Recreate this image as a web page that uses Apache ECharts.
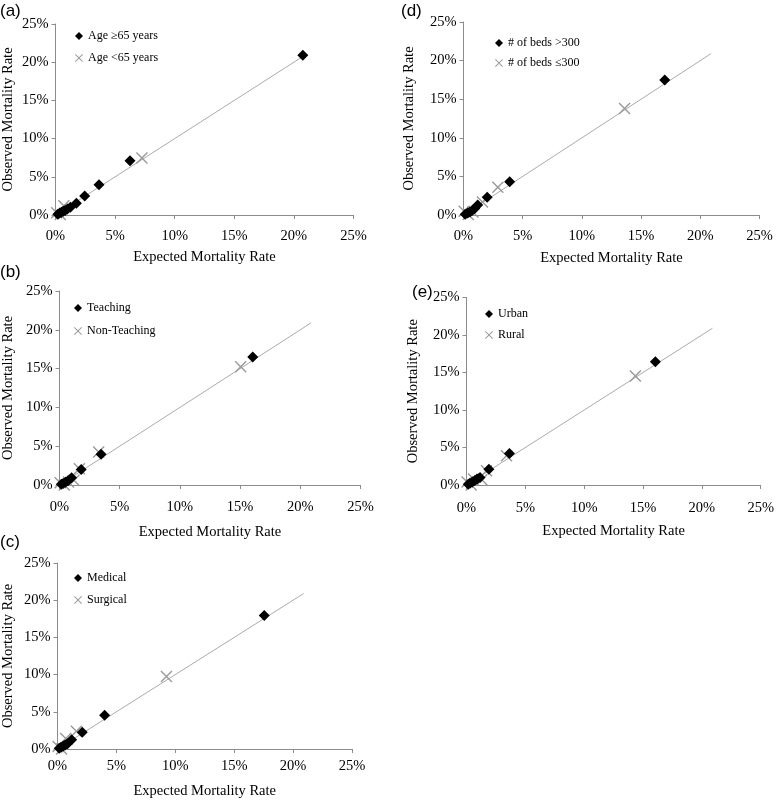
<!DOCTYPE html>
<html>
<head>
<meta charset="utf-8">
<script src="https://cdn.jsdelivr.net/npm/echarts@6/dist/echarts.min.js"></script>
<style>html,body{margin:0;padding:0;background:#fff;}#chart{width:777px;height:800px;}</style>
</head>
<body>
<div id="chart"></div>
<script>
// ---- data (percent) ----
const panelTags = ['(a)', '(b)', '(c)', '(d)', '(e)'];
const groupNames = [
  ['Age ≥65 years', 'Age <65 years'],
  ['Teaching', 'Non-Teaching'],
  ['Medical', 'Surgical'],
  ['# of beds >300', '# of beds ≤300'],
  ['Urban', 'Rural']
];
const xAxisTitle = 'Expected Mortality Rate';
const yAxisTitle = 'Observed Mortality Rate';
const axisMin = 0, axisMax = 25, axisStep = 5;
const identityLine = [[0, 0], [20.9, 20.9]];

const diamondsA = [[0.2,0.1],[0.35,0.25],[0.5,0.35],[0.65,0.5],[0.8,0.6],[1.0,0.8],[1.25,1.0],[1.75,1.55],[2.45,2.5],[3.65,3.95],[6.25,7.1],[20.75,20.9]];
const crossesA  = [[0.1,0.3],[0.4,0.05],[0.7,1.2],[7.25,7.45]];
const diamondsB = [[0.15,0.1],[0.3,0.2],[0.5,0.35],[0.7,0.55],[1.0,0.95],[1.8,2.0],[3.45,3.95],[16.05,16.5]];
const crossesB  = [[0.05,0.3],[0.4,0.0],[0.75,0.4],[1.2,0.6],[1.65,2.1],[3.25,4.25],[15.05,15.25]];
const diamondsC = [[0.15,0.1],[0.3,0.25],[0.5,0.4],[0.65,0.55],[0.85,0.7],[1.2,1.25],[2.1,2.25],[4.0,4.55],[17.55,17.95]];
const crossesC  = [[0.05,0.35],[0.35,0.0],[0.7,1.4],[1.6,2.4],[9.25,9.75]];
const diamondsD = [[0.15,0.1],[0.35,0.25],[0.55,0.4],[0.75,0.6],[0.95,0.85],[1.2,1.3],[2.0,2.3],[3.9,4.3],[17.0,17.5]];
const crossesD  = [[0.05,0.5],[0.4,0.05],[0.8,0.4],[1.6,1.7],[2.9,3.6],[13.6,13.8]];
const diamondsE = [[0.15,0.1],[0.3,0.25],[0.5,0.4],[0.7,0.6],[0.9,0.8],[1.15,1.0],[1.9,2.1],[3.65,4.2],[16.05,16.45]];
const crossesE  = [[0.05,0.4],[0.4,0.0],[0.6,0.8],[1.3,0.7],[1.7,1.9],[3.4,3.9],[14.35,14.55]];

const diamondSets = [diamondsA, diamondsB, diamondsC, diamondsD, diamondsE];
const crossSets = [crossesA, crossesB, crossesC, crossesD, crossesE];

// ---- layout / style ----
const grids = [
  {left: 55.5, top: 24, width: 298, height: 191},
  {left: 57.5, top: 291, width: 303, height: 194},
  {left: 57, top: 563, width: 295, height: 188},
  {left: 463.5, top: 22, width: 296, height: 193},
  {left: 466.5, top: 297.5, width: 296.5, height: 187.5}
];
const yNameGap = [39.5, 43.5, 41.5, 46.5, 46];
const xNameGap = [35, 40, 35, 36, 39];
const xLabelMargin = [14, 15, 10, 14, 16];
const legendPos = [
  {left: 75, top: 30, itemGap: 10},
  {left: 74, top: 302, itemGap: 11},
  {left: 74, top: 572, itemGap: 10},
  {left: 495, top: 37, itemGap: 8},
  {left: 485, top: 308, itemGap: 9}
];
const tagPos = [[0, 3], [0, 264], [0, 534], [401, 3], [412, 284]];

const SERIF = '"Liberation Serif", "Times New Roman", serif';
const AXIS_COLOR = '#8c8c8c';
const CROSS_PATH = 'path://M0,1L1,0L6,5L11,0L12,1L7,6L12,11L11,12L6,7L1,12L0,11L5,6Z';

const option = {
  backgroundColor: '#fff',
  animation: false,
  grid: grids.map(g => Object.assign({containLabel: false}, g)),
  xAxis: grids.map((g, i) => ({
    type: 'value', gridIndex: i, min: axisMin, max: axisMax, interval: axisStep,
    name: xAxisTitle, nameLocation: 'middle', nameGap: xNameGap[i],
    nameTextStyle: {fontFamily: SERIF, fontSize: 14.5, color: '#000'},
    axisLine: {show: true, lineStyle: {color: AXIS_COLOR, width: 1}},
    axisTick: {show: true, inside: false, length: 4, lineStyle: {color: AXIS_COLOR}},
    axisLabel: {formatter: '{value}%', fontFamily: SERIF, fontSize: 14.5, color: '#000', margin: xLabelMargin[i]},
    splitLine: {show: false}
  })),
  yAxis: grids.map((g, i) => ({
    type: 'value', gridIndex: i, min: axisMin, max: axisMax, interval: axisStep,
    name: yAxisTitle, nameLocation: 'middle', nameGap: yNameGap[i], nameRotate: 90,
    nameTextStyle: {fontFamily: SERIF, fontSize: 14.5, color: '#000'},
    axisLine: {show: true, lineStyle: {color: AXIS_COLOR, width: 1}},
    axisTick: {show: true, inside: false, length: 4, lineStyle: {color: AXIS_COLOR}},
    axisLabel: {formatter: '{value}%', fontFamily: SERIF, fontSize: 14.5, color: '#000', margin: 7},
    splitLine: {show: false}
  })),
  legend: groupNames.map((names, i) => ({
    orient: 'vertical', left: legendPos[i].left, top: legendPos[i].top, itemGap: legendPos[i].itemGap,
    itemWidth: 8, itemHeight: 8, padding: 0,
    textStyle: {fontFamily: SERIF, fontSize: 12, color: '#000'},
    data: [
      {name: names[0], icon: 'diamond', itemStyle: {color: '#000'}},
      {name: names[1], icon: CROSS_PATH, itemStyle: {color: '#9a9a9a'}}
    ],
    selectedMode: false
  })),
  series: [],
  graphic: panelTags.map((t, i) => ({
    type: 'text', left: tagPos[i][0], top: tagPos[i][1],
    style: {text: t, fontFamily: '"Liberation Sans", Arial, sans-serif', fontSize: 17, fill: '#000'}
  }))
};

grids.forEach((g, i) => {
  option.series.push({
    type: 'line', xAxisIndex: i, yAxisIndex: i, data: identityLine,
    showSymbol: false, silent: true, z: 1,
    lineStyle: {color: '#ababab', width: 1}
  });
  option.series.push({
    type: 'scatter', name: groupNames[i][1], xAxisIndex: i, yAxisIndex: i,
    data: crossSets[i], symbol: CROSS_PATH, symbolSize: 12, z: 2,
    itemStyle: {color: '#9a9a9a', opacity: 1}
  });
  option.series.push({
    type: 'scatter', name: groupNames[i][0], xAxisIndex: i, yAxisIndex: i,
    data: diamondSets[i], symbol: 'diamond', symbolSize: 11, z: 3,
    itemStyle: {color: '#000', opacity: 1}
  });
});

const chart = echarts.init(document.getElementById('chart'), null, {renderer: 'canvas'});
chart.setOption(option);
</script>
</body>
</html>
